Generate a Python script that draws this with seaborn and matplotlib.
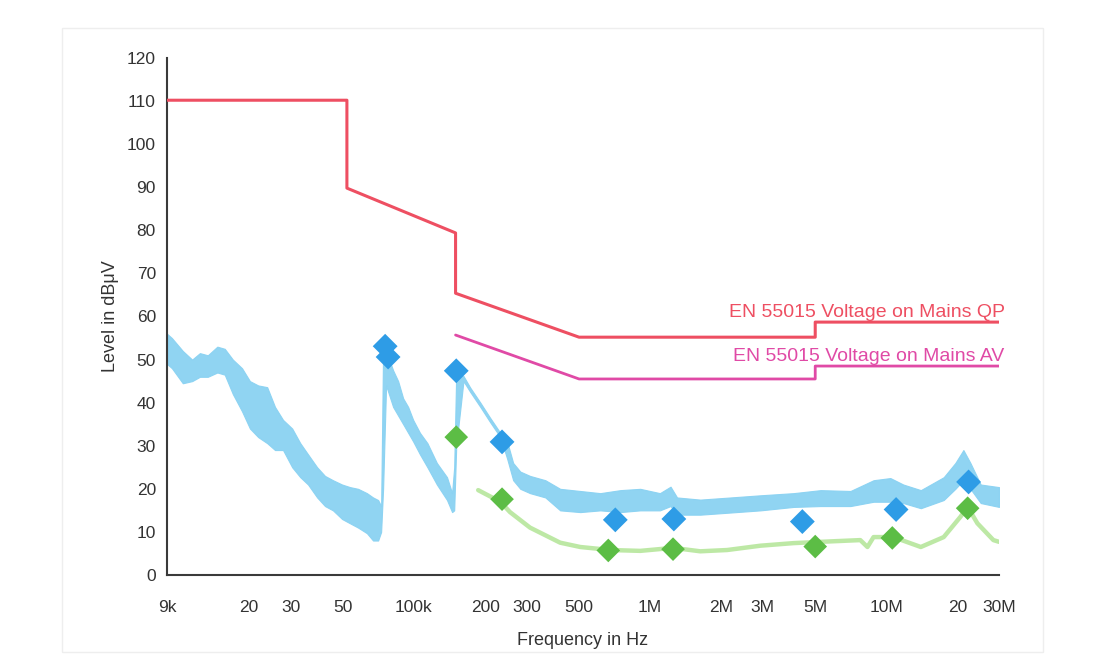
import numpy as np
import pandas as pd
import matplotlib
matplotlib.use("Agg")
import matplotlib.pyplot as plt
import seaborn as sns
from matplotlib.ticker import FixedLocator, MultipleLocator, NullLocator
from matplotlib.patches import Rectangle

# ---------------- data ----------------
# measured spectrum envelope (frequency in Hz, lower / upper level in dBuV)
trace_freq = [9.0e3, 9.44e3, 10.5e3, 11.5e3, 12.4e3, 13.4e3, 14.7e3, 15.8e3, 17.1e3, 18.7e3,
              20.2e3, 21.9e3, 23.9e3, 25.8e3, 27.9e3, 30.5e3, 33.0e3, 35.6e3, 38.9e3, 42.0e3,
              45.4e3, 49.6e3, 53.6e3, 58.0e3, 63.2e3, 67.1e3, 70.5e3, 72.6e3, 74.0e3, 76.2e3,
              81.6e3, 85.7e3, 90.0e3, 94.5e3, 99.2e3, 106e3, 114e3, 125e3, 138e3, 145e3,
              148e3, 151e3, 162e3, 173e3, 191e3, 210e3, 232e3, 248e3, 263e3, 282e3,
              310e3, 360e3, 416e3, 506e3, 615e3, 748e3, 908e3, 1.10e6, 1.22e6, 1.30e6,
              1.63e6, 2.19e6, 2.93e6, 4.05e6, 5.27e6, 7.05e6, 8.83e6, 10.4e6, 11.8e6, 14.0e6,
              17.5e6, 19.6e6, 21.2e6, 22.7e6, 25.1e6, 30.0e6]
trace_low = [49, 48, 44.5, 45, 46, 46, 47, 46.5, 42, 38,
             34, 32, 30.6, 29, 29, 25, 22.7, 21, 18, 16,
             15, 13, 12, 11, 9.7, 8, 8, 10, 20, 44,
             39, 37, 35, 33, 31, 28, 25, 21, 17.4, 14.6,
             15, 30, 45, 42.5, 39, 35.5, 32, 27, 22, 20,
             19, 18, 15, 14.6, 15, 14.6, 15, 15, 16, 14,
             14, 14.5, 15, 15.8, 16, 16, 17, 17, 16.7, 15.5,
             17.4, 20, 22, 20, 16.7, 15.8]
trace_high = [56, 55, 52, 50, 51.5, 51, 53, 52.5, 50, 48,
              45, 44, 43.6, 39, 36, 34, 30.6, 28, 25, 23,
              22, 21, 20.4, 20, 19, 18, 17.4, 16, 52, 52,
              47.5, 45, 41, 39, 36, 33, 30.6, 26, 22.7, 19,
              25, 47, 46.2, 43.5, 40, 36.5, 33, 31, 26, 24,
              23, 22, 20, 19.5, 19, 19.7, 20, 19, 20.5, 18,
              17.5, 18, 18.5, 19, 19.7, 19.5, 22, 22.5, 21, 19.7,
              22.7, 26, 29, 26, 21, 20.4]

# average detector trace
av_freq = [187e3, 232e3, 255e3, 310e3, 416e3, 506e3, 678e3, 908e3, 1.25e6, 1.63e6,
           2.12e6, 2.93e6, 4.05e6, 5.8e6, 7.76e6, 8.32e6, 8.83e6, 10.7e6, 14.0e6, 17.5e6,
           20.6e6, 22.1e6, 24.3e6, 28.4e6, 30.0e6]
av_level = [19.7, 17, 14.6, 11, 7.5, 6.5, 5.8, 5.6, 6.3, 5.5,
            5.8, 6.8, 7.4, 7.8, 8.1, 6.5, 8.8, 8.8, 6.5, 8.8,
            13.5, 15.8, 12, 8.1, 7.7]

# final measurement markers
qp_mark_freq = [75.5e3, 77.7e3, 151e3, 236e3, 712e3, 1.26e6, 4.41e6, 11.0e6, 22.3e6]
qp_mark_level = [53.1, 50.6, 47.4, 30.9, 12.8, 13.0, 12.4, 15.2, 21.6]
av_mark_freq = [151e3, 236e3, 665e3, 1.25e6, 5.0e6, 10.6e6, 22.1e6]
av_mark_level = [32.0, 17.6, 5.7, 6.0, 6.6, 8.6, 15.5]

# limit lines
qp_lim_freq = [9e3, 52e3, 52e3, 150e3, 150e3, 500e3, 5e6, 5e6, 30e6]
qp_lim_level = [110.2, 110.2, 89.8, 79.4, 65.4, 55.2, 55.2, 58.7, 58.7]
av_lim_freq = [150e3, 500e3, 5e6, 5e6, 30e6]
av_lim_level = [55.7, 45.5, 45.5, 48.5, 48.5]

x_ticks = [9e3, 20e3, 30e3, 50e3, 100e3, 200e3, 300e3, 500e3, 1e6, 2e6, 3e6, 5e6, 10e6, 20e6, 30e6]
x_labels = ["9k", "20", "30", "50", "100k", "200", "300", "500", "1M", "2M", "3M", "5M", "10M", "20", "30M"]
y_ticks = list(range(0, 121, 10))

qp_text = "EN 55015 Voltage on Mains QP"
av_text = "EN 55015 Voltage on Mains AV"

# ---------------- style ----------------
sns.set_style("white")
plt.rcParams['font.family'] = ['Liberation Sans', 'DejaVu Sans']

C_TRACE = "#8ad2f2"
C_QPM = "#2e9ce6"
C_AVM = "#5cbd45"
C_AVT = "#b2e596"
C_QPL = "#ee4f62"
C_AVL = "#e04aa6"
C_AX = "#3a3a3a"

fig = plt.figure(figsize=(11, 6.54), dpi=100)
fig.add_artist(Rectangle((62 / 1100, 2 / 654), (1043 - 62) / 1100, (626 - 2) / 654,
                         transform=fig.transFigure, fill=False, edgecolor="#eeeeee", lw=1))
ax = fig.add_axes([167 / 1100, 1 - 575 / 654, (999 - 167) / 1100, (575 - 58) / 654])
ax.set_xscale("log")

# measured spectrum band
ax.fill_between(trace_freq, trace_low, trace_high, color=C_TRACE, lw=0.8,
                edgecolor=C_TRACE, alpha=0.95, zorder=2)

# average trace
sns.lineplot(x=av_freq, y=av_level, ax=ax, color=C_AVT, lw=3.2, alpha=0.85,
             estimator=None, sort=False, zorder=2)

# limit lines
sns.lineplot(x=qp_lim_freq, y=qp_lim_level, ax=ax, color=C_QPL, lw=2.2,
             estimator=None, sort=False, zorder=3)
sns.lineplot(x=av_lim_freq, y=av_lim_level, ax=ax, color=C_AVL, lw=2.0,
             estimator=None, sort=False, zorder=3)

# markers
sns.scatterplot(x=qp_mark_freq, y=qp_mark_level, ax=ax, marker="D", s=160,
                color=C_QPM, edgecolor="none", zorder=4)
sns.scatterplot(x=av_mark_freq, y=av_mark_level, ax=ax, marker="D", s=145,
                color=C_AVM, edgecolor="none", zorder=4)

# limit labels
ax.annotate(qp_text, xy=(qp_lim_freq[-1], qp_lim_level[-1]), xytext=(4, 1),
            textcoords="offset points", ha="right", va="bottom",
            fontsize=14, color=C_QPL, annotation_clip=False)
ax.annotate(av_text, xy=(av_lim_freq[-1], av_lim_level[-1]), xytext=(4, 1),
            textcoords="offset points", ha="right", va="bottom",
            fontsize=14, color=C_AVL, annotation_clip=False)

# axes
ax.set_xlim(9e3, 30e6)
ax.set_ylim(0, 120)
ax.xaxis.set_major_locator(FixedLocator(x_ticks))
ax.set_xticklabels(x_labels)
ax.xaxis.set_minor_locator(NullLocator())
ax.yaxis.set_major_locator(FixedLocator(y_ticks))
ax.yaxis.set_minor_locator(MultipleLocator(5))

for s in ["top", "right"]:
    ax.spines[s].set_visible(False)
for s in ["left", "bottom"]:
    ax.spines[s].set_color(C_AX)
    ax.spines[s].set_linewidth(1.5)

ax.tick_params(axis="both", which="both", direction="inout", length=12, width=1.3,
               color=C_AX, labelsize=12.5, labelcolor="#333333")
ax.tick_params(axis="y", which="major", pad=2)
ax.tick_params(axis="x", which="major", pad=12)

ax.set_xlabel("Frequency in Hz", fontsize=13, color="#333333", labelpad=12)
ax.set_ylabel("Level in dBμV", fontsize=13, color="#333333", labelpad=6)
ax.grid(False)
ax.set_facecolor("white")

fig.savefig("out.png", dpi=100)
